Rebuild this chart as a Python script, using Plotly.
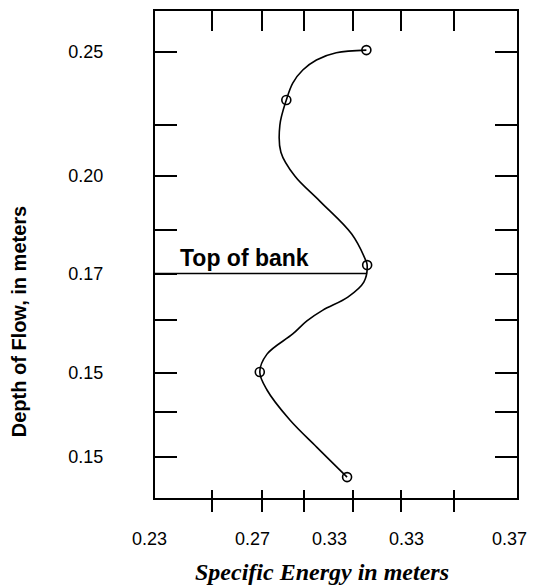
import plotly.graph_objects as go

# Measured points: specific energy (m) vs depth of flow (m)
energy = [0.3144, 0.2833, 0.3147, 0.2730, 0.3069]
depth = [0.2508, 0.2305, 0.1634, 0.1199, 0.0772]

# Smooth specific-energy curve traced through the points
curve_energy = [0.3144, 0.3027, 0.2950, 0.2897, 0.2858, 0.2833, 0.2808, 0.2812,
                0.2866, 0.2963, 0.3087, 0.3141, 0.3147, 0.3134, 0.3072, 0.2975,
                0.2913, 0.2858, 0.2758, 0.2730, 0.2758, 0.2847, 0.2951, 0.3069]
curve_depth = [0.2508, 0.2497, 0.2468, 0.2427, 0.2374, 0.2305, 0.2203, 0.2093,
               0.1996, 0.1894, 0.1760, 0.1654, 0.1634, 0.1565, 0.1504, 0.1451,
               0.1407, 0.1354, 0.1272, 0.1199, 0.1126, 0.1004, 0.0894, 0.0772]

bank_depth = 0.160

# Axis ticks and labels
x_ticks = [0.2545, 0.2737, 0.2900, 0.3093, 0.3277, 0.3486]
x_label_pos = [0.23, 0.27, 0.30, 0.33, 0.37]
x_label_text = ["0.23", "0.27", "0.33", "0.33", "0.37"]
y_ticks = [0.2501, 0.2202, 0.1998, 0.1778, 0.1597, 0.1412, 0.1196, 0.1037, 0.0854]
y_tick_text = ["0.25", "", "0.20", "", "0.17", "", "0.15", "", "0.15"]

x_range = [0.2323, 0.3729]
y_range = [0.0687, 0.2667]


def x_to_paper(v):
    return (v - x_range[0]) / (x_range[1] - x_range[0])


fig = go.Figure()

fig.add_trace(go.Scatter(
    x=curve_energy, y=curve_depth, mode="lines",
    line=dict(color="black", width=1.6, shape="spline", smoothing=1.0),
    hoverinfo="skip", showlegend=False, xaxis="x", yaxis="y"))

fig.add_trace(go.Scatter(
    x=energy, y=depth, mode="markers",
    marker=dict(symbol="circle-open", size=9, color="black", line=dict(width=1.6)),
    showlegend=False, xaxis="x2", yaxis="y"))

fig.add_trace(go.Scatter(
    x=[x_range[0], energy[2]], y=[bank_depth, bank_depth], mode="lines",
    line=dict(color="black", width=1.5),
    hoverinfo="skip", showlegend=False, xaxis="x3", yaxis="y"))

common_x = dict(range=x_range, tickvals=x_ticks, showgrid=False, zeroline=False,
                showticklabels=False, tickcolor="black", tickwidth=2)

fig.update_layout(
    width=533, height=586,
    margin=dict(l=155, r=16, t=11, b=88),
    paper_bgcolor="white", plot_bgcolor="white",
    xaxis=dict(**common_x, side="bottom", ticks="inside", ticklen=8,
               showline=True, linecolor="black", linewidth=2),
    xaxis2=dict(**common_x, overlaying="x", side="top", ticks="inside", ticklen=20,
                showline=True, linecolor="black", linewidth=2),
    xaxis3=dict(**common_x, overlaying="x", side="bottom", ticks="outside", ticklen=13,
                showline=False),
    yaxis=dict(range=y_range, tickvals=y_ticks, ticktext=y_tick_text,
               showgrid=False, zeroline=False, ticks="inside", ticklen=22,
               tickwidth=2, tickcolor="black", showline=True, linecolor="black",
               linewidth=2, mirror="ticks", ticklabelstandoff=46,
               tickfont=dict(family="Liberation Sans, Arial, sans-serif",
                             size=18, color="black")),
)

label_font = dict(family="Liberation Sans, Arial, sans-serif", size=18, color="black")
for pos, txt in zip(x_label_pos, x_label_text):
    fig.add_annotation(x=x_to_paper(pos), y=-0.084, xref="paper", yref="paper",
                       text=txt, showarrow=False, xanchor="center", yanchor="middle",
                       font=label_font)

fig.add_annotation(x=0.2412, y=0.1664, xref="x", yref="y", text="<b>Top of bank</b>",
                   showarrow=False, xanchor="left", yanchor="middle",
                   font=dict(family="Liberation Sans, Arial, sans-serif", size=23,
                             color="black"))

fig.add_annotation(x=0.4607, y=-0.152, xref="paper", yref="paper",
                   text="<b><i>Specific Energy in meters</i></b>",
                   showarrow=False, xanchor="center", yanchor="middle",
                   font=dict(family="Liberation Serif, Times New Roman, serif",
                             size=24, color="black"))

fig.add_annotation(x=-0.375, y=0.3634, xref="paper", yref="paper",
                   text="<b>Depth of Flow, in meters</b>", textangle=-90,
                   showarrow=False, xanchor="center", yanchor="middle",
                   font=dict(family="Liberation Sans, Arial, sans-serif", size=20,
                             color="black"))

fig.write_html("out.html")
